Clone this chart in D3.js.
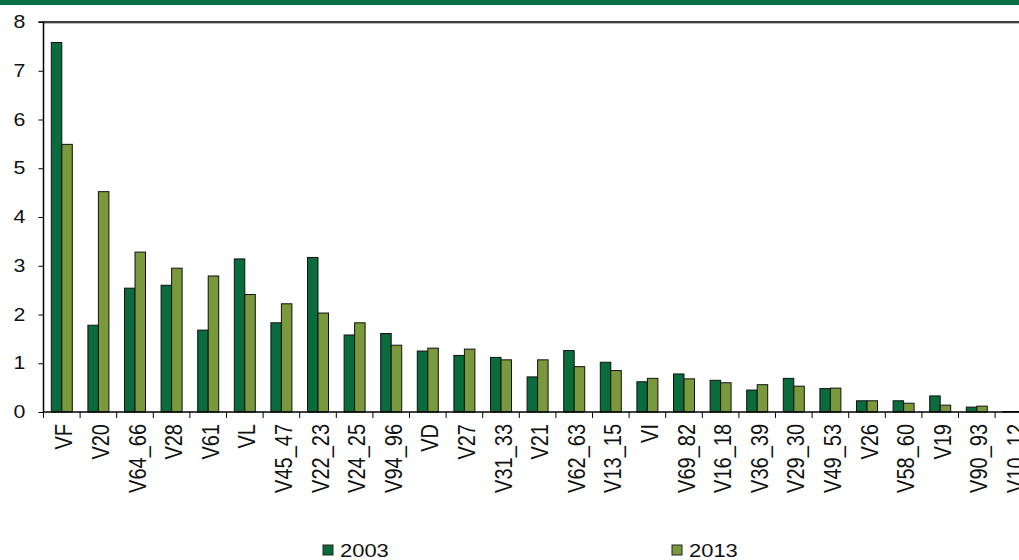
<!DOCTYPE html>
<html>
<head>
<meta charset="utf-8">
<script src="https://cdn.jsdelivr.net/npm/d3@7"></script>
<style>
  body { margin: 0; background: #fff; }
  svg { display: block; font-family: "Liberation Sans", Arial, sans-serif; }
</style>
</head>
<body>
<svg id="chart" width="1019" height="560"></svg>
<script>
const categories = ['VF', 'V20', 'V64_66', 'V28', 'V61', 'VL', 'V45_47', 'V22_23', 'V24_25', 'V94_96',
  'VD', 'V27', 'V31_33', 'V21', 'V62_63', 'V13_15', 'VI', 'V69_82', 'V16_18', 'V36_39',
  'V29_30', 'V49_53', 'V26', 'V58_60', 'V19', 'V90_93', 'V10_12'];
const values2003 = [7.58, 1.78, 2.54, 2.60, 1.68, 3.14, 1.83, 3.17, 1.58, 1.61,
  1.25, 1.16, 1.12, 0.72, 1.26, 1.02, 0.62, 0.78, 0.65, 0.45,
  0.69, 0.48, 0.23, 0.23, 0.33, 0.10, 0.01];
const values2013 = [5.49, 4.52, 3.28, 2.95, 2.79, 2.41, 2.22, 2.03, 1.83, 1.37,
  1.31, 1.29, 1.07, 1.07, 0.93, 0.85, 0.69, 0.68, 0.60, 0.56,
  0.53, 0.49, 0.23, 0.18, 0.14, 0.12, 0.01];
const seriesNames = ['2003', '2013'];
const yTicks = [0, 1, 2, 3, 4, 5, 6, 7, 8];

const colors = { '2003': '#0a6b3c', '2013': '#7a983c' };

const svg = d3.select('#chart');
const plotLeft = 43.5, plotTop = 22, plotBottom = 412;
const bandW = 36.6;
const plotRight = plotLeft + bandW * categories.length;
const stretch = 1.22; // text in the source looks widened

// top band
svg.append('rect').attr('x', 0).attr('y', 0).attr('width', 1019).attr('height', 5).attr('fill', '#077045');

const x = d3.scaleBand().domain(categories).range([plotLeft, plotRight]).paddingInner(0).paddingOuter(0);
const xs = d3.scaleBand().domain(seriesNames).range([0, 21]);
const y = d3.scaleLinear().domain([0, 8]).range([plotBottom, plotTop]);

// frame top line with soft shadow
svg.append('line').attr('x1', plotLeft).attr('x2', 1019).attr('y1', plotTop + 1.5).attr('y2', plotTop + 1.5)
  .attr('stroke', '#bbb').attr('stroke-width', 1);
svg.append('line').attr('x1', plotLeft).attr('x2', 1019).attr('y1', plotTop).attr('y2', plotTop)
  .attr('stroke', '#000').attr('stroke-width', 1.5);

const data = categories.map((c, i) => ({ cat: c, vals: [
  { key: '2003', value: values2003[i] },
  { key: '2013', value: values2013[i] }
] }));

const groups = svg.append('g').selectAll('g').data(data).join('g')
  .attr('transform', d => `translate(${x(d.cat) + (x.bandwidth() - 21) / 2},0)`);

groups.selectAll('rect').data(d => d.vals).join('rect')
  .attr('x', d => xs(d.key))
  .attr('y', d => y(d.value))
  .attr('width', xs.bandwidth())
  .attr('height', d => y(0) - y(d.value))
  .attr('fill', d => colors[d.key])
  .attr('stroke', '#111')
  .attr('stroke-width', 1);

// y axis
const yAxis = d3.axisLeft(y).tickValues(yTicks).tickSize(5).tickFormat(d3.format('d'));
const gy = svg.append('g').attr('transform', `translate(${plotLeft},0)`).call(yAxis);
gy.select('.domain').attr('stroke', '#000').attr('stroke-width', 1.5).attr('d', `M-5,${plotTop}H0V${plotBottom}`);
gy.selectAll('.tick line').attr('stroke', '#000');
gy.selectAll('.tick text')
  .attr('x', 0)
  .attr('transform', `translate(-18,0) scale(${stretch},1)`)
  .attr('font-size', 17.5)
  .attr('fill', '#111');

// x axis
const boundaries = d3.range(categories.length + 1).map(i => plotLeft + i * bandW);
svg.append('line').attr('x1', plotLeft).attr('x2', 1019).attr('y1', plotBottom).attr('y2', plotBottom)
  .attr('stroke', '#000').attr('stroke-width', 1.5);
svg.append('g').selectAll('line').data(boundaries).join('line')
  .attr('x1', d => d).attr('x2', d => d).attr('y1', plotBottom).attr('y2', plotBottom + 6)
  .attr('stroke', '#000').attr('stroke-width', 1);

svg.append('g').selectAll('text').data(categories).join('text')
  .attr('transform', d => `translate(${x(d) + x.bandwidth() / 2 + 10.5},${plotBottom + 12}) scale(${stretch},1) rotate(-90)`)
  .attr('text-anchor', 'end')
  .attr('font-size', 20)
  .attr('fill', '#111')
  .text(d => d);

// legend
const legendPos = [323, 672];
const lg = svg.append('g').selectAll('g').data(seriesNames).join('g')
  .attr('transform', (d, i) => `translate(${legendPos[i]},545)`);
lg.append('rect').attr('width', 10).attr('height', 10)
  .attr('fill', d => colors[d]).attr('stroke', '#222').attr('stroke-width', 1);
lg.append('text')
  .attr('transform', `translate(17,11.5) scale(${stretch},1)`)
  .attr('font-size', 18).attr('fill', '#111').text(d => d);
</script>
</body>
</html>
